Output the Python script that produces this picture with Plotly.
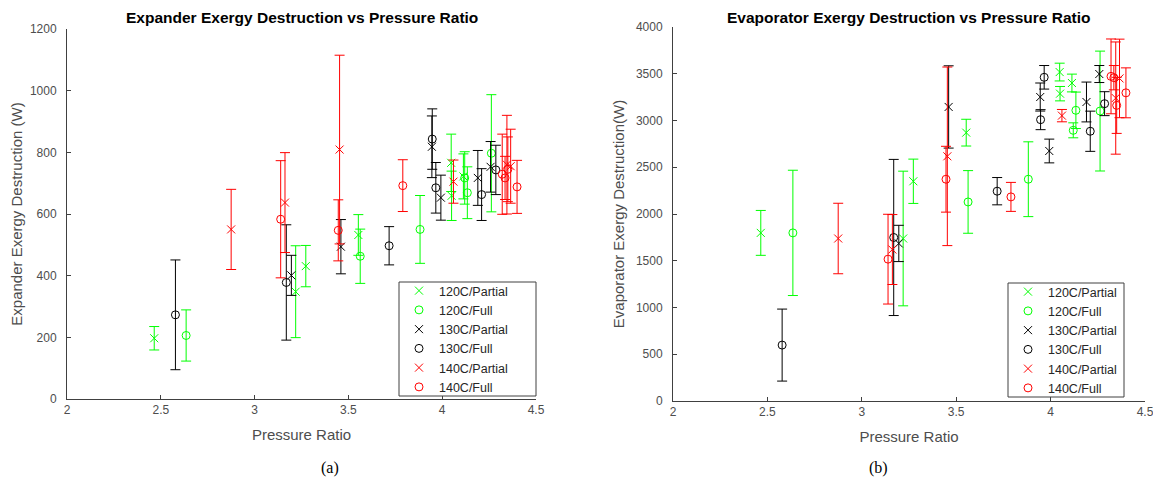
import plotly.graph_objects as go

# ---------------- data ----------------
# 120C / Partial
pr_120p = [2.465, 3.219, 3.273, 3.553, 4.048, 4.050, 4.113]
exp_120p = [197, 348, 431, 532, 766, 659, 722]
exp_120p_err = [38, 149, 67, 66, 93, 80, 73]
evp_120p = [1798, 1738, 2350, 2870, 3518, 3287, 3401]
evp_120p_err = [240, 720, 237, 143, 95, 77, 95]

# 120C / Full
pr_120f = [2.635, 3.563, 3.882, 4.120, 4.134, 4.262]
exp_120f = [206, 463, 550, 717, 669, 797]
exp_120f_err = [83, 88, 110, 85, 84, 190]
evp_120f = [1798, 2129, 2372, 2895, 3109, 3101]
evp_120f_err = [670, 335, 400, 80, 195, 641]

# 130C / Partial
pr_130p = [3.196, 3.460, 3.945, 3.993, 4.190, 4.258]
exp_130p = [401, 494, 818, 653, 717, 753]
exp_130p_err = [65, 88, 100, 73, 89, 82]
evp_130p = [1685, 3145, 3251, 2674, 3198, 3497]
evp_130p_err = [194, 440, 150, 127, 213, 91]

# 130C / Full
pr_130f = [2.578, 3.169, 3.717, 3.947, 3.966, 4.210, 4.286]
exp_130f = [273, 378, 497, 843, 685, 663, 743]
exp_130f_err = [178, 187, 62, 98, 82, 84, 80]
evp_130f = [598, 1749, 2244, 3009, 3462, 2885, 3180]
evp_130f_err = [385, 835, 146, 107, 126, 215, 128]

# 140C / Partial
pr_140p = [2.875, 3.162, 3.453, 4.060, 4.345, 4.365]
exp_140p = [550, 637, 809, 705, 760, 755]
exp_140p_err = [130, 162, 306, 70, 160, 120]
evp_140p = [1738, 1620, 2617, 3052, 3240, 3450]
evp_140p_err = [377, 374, 955, 66, 600, 420]

# 140C / Full
pr_140f = [3.139, 3.446, 3.790, 4.320, 4.335, 4.350, 4.399]
exp_140f = [583, 547, 692, 729, 717, 745, 688]
exp_140f_err = [190, 99, 84, 130, 70, 105, 86]
evp_140f = [1517, 2372, 2183, 3472, 3458, 3162, 3296]
evp_140f_err = [480, 352, 155, 400, 130, 300, 267]

series_names = ["120C/Partial", "120C/Full", "130C/Partial",
                "130C/Full", "140C/Partial", "140C/Full"]
x_ticks = [2, 2.5, 3, 3.5, 4, 4.5]
x_tick_labels = ["2", "2.5", "3", "3.5", "4", "4.5"]
exp_ticks = [0, 200, 400, 600, 800, 1000, 1200]
evp_ticks = [0, 500, 1000, 1500, 2000, 2500, 3000, 3500, 4000]

GREEN = "#00ff00"
BLACK = "#000000"
RED = "#ff0000"

series = [
    (series_names[0], pr_120p, exp_120p, exp_120p_err, evp_120p, evp_120p_err, GREEN, "x-thin-open"),
    (series_names[1], pr_120f, exp_120f, exp_120f_err, evp_120f, evp_120f_err, GREEN, "circle-open"),
    (series_names[2], pr_130p, exp_130p, exp_130p_err, evp_130p, evp_130p_err, BLACK, "x-thin-open"),
    (series_names[3], pr_130f, exp_130f, exp_130f_err, evp_130f, evp_130f_err, BLACK, "circle-open"),
    (series_names[4], pr_140p, exp_140p, exp_140p_err, evp_140p, evp_140p_err, RED, "x-thin-open"),
    (series_names[5], pr_140f, exp_140f, exp_140f_err, evp_140f, evp_140f_err, RED, "circle-open"),
]

FONT = "Liberation Sans, Arial, sans-serif"
SERIF = "Liberation Serif, Times New Roman, serif"
AXC = "#404040"
TXC = "#4d4d4d"

# page body has an 8px margin: figure is placed at (8, 8) in the window
OFF = 8
W, H = 1161 - OFF, 484 - OFF


def fx(sx):
    return (sx - OFF) / W


def fy(sy):
    return 1 - (sy - OFF) / H


fig = go.Figure()
for name, xs, ey, ee, vy, ve, col, sym in series:
    fig.add_trace(go.Scatter(
        x=xs, y=ey, mode="markers", name=name,
        marker=dict(symbol=sym, size=8, color=col, line=dict(color=col, width=1)),
        error_y=dict(type="data", array=ee, visible=True, color=col, thickness=1, width=5),
        xaxis="x", yaxis="y", legend="legend"))
    fig.add_trace(go.Scatter(
        x=xs, y=vy, mode="markers", name=name,
        marker=dict(symbol=sym, size=8, color=col, line=dict(color=col, width=1)),
        error_y=dict(type="data", array=ve, visible=True, color=col, thickness=1, width=5),
        xaxis="x2", yaxis="y2", legend="legend2"))

axis_common = dict(showline=True, linecolor=AXC, linewidth=1, ticks="inside",
                   ticklen=4, tickcolor=AXC, showgrid=False, zeroline=False,
                   automargin=False,
                   tickfont=dict(family=FONT, size=12, color=TXC),
                   title_font=dict(family=FONT, size=15, color=TXC))

legend_common = dict(bgcolor="rgba(0,0,0,0)", borderwidth=0,
                     font=dict(family=FONT, size=12.5, color="#262626"),
                     xanchor="left", yanchor="middle", tracegroupgap=0)

# legend frames (window pixel boxes converted to paper fractions)
leg1 = dict(x0=fx(399), x1=fx(536), y0=fy(396), y1=fy(282))
leg2 = dict(x0=fx(1008), x1=fx(1124), y0=fy(397), y1=fy(283))

fig.update_layout(
    width=W, height=H, margin=dict(l=0, r=0, t=0, b=0, autoexpand=False),
    paper_bgcolor="white", plot_bgcolor="white", showlegend=True,
    xaxis=dict(domain=[fx(67), fx(536)], range=[2, 4.5], tickvals=x_ticks,
               ticktext=x_tick_labels, anchor="y",
               title=dict(text="Pressure Ratio", standoff=13), **axis_common),
    yaxis=dict(domain=[fy(399), fy(29)], range=[0, 1200], tickvals=exp_ticks,
               anchor="x", ticklabelstandoff=7,
               title=dict(text="Expander Exergy Destruction (W)", standoff=6),
               **axis_common),
    xaxis2=dict(domain=[fx(673), fx(1145)], range=[2, 4.5], tickvals=x_ticks,
                ticktext=x_tick_labels, anchor="y2",
                title=dict(text="Pressure Ratio", standoff=13), **axis_common),
    yaxis2=dict(domain=[fy(401), fy(27)], range=[0, 4000], tickvals=evp_ticks,
                anchor="x2", ticklabelstandoff=7,
                title=dict(text="Evaporator Exergy Destruction(W)", standoff=7),
                **axis_common),
    legend=dict(x=leg1["x0"], y=(leg1["y0"] + leg1["y1"]) / 2, **legend_common),
    legend2=dict(x=leg2["x0"], y=(leg2["y0"] + leg2["y1"]) / 2, **legend_common),
    shapes=[
        dict(type="rect", xref="paper", yref="paper", layer="above",
             line=dict(color=AXC, width=1), fillcolor="white", **leg1),
        dict(type="rect", xref="paper", yref="paper", layer="above",
             line=dict(color=AXC, width=1), fillcolor="white", **leg2),
    ],
    annotations=[
        dict(text="<b>Expander Exergy Destruction vs Pressure Ratio</b>", x=fx(302), y=1,
             xref="paper", yref="paper", showarrow=False, xanchor="center", yanchor="top",
             borderpad=0, font=dict(family=FONT, size=15.5, color="#000000")),
        dict(text="<b>Evaporator Exergy Destruction vs Pressure Ratio</b>", x=fx(909), y=1,
             xref="paper", yref="paper", showarrow=False, xanchor="center", yanchor="top",
             borderpad=0, font=dict(family=FONT, size=15.5, color="#000000")),
        dict(text="(a)", x=fx(330), y=fy(468), xref="paper", yref="paper",
             showarrow=False, xanchor="center", yanchor="middle",
             font=dict(family=SERIF, size=16, color="#000000")),
        dict(text="(b)", x=fx(878), y=fy(468), xref="paper", yref="paper",
             showarrow=False, xanchor="center", yanchor="middle",
             font=dict(family=SERIF, size=16, color="#000000")),
    ],
)

fig.write_html("out.html")
